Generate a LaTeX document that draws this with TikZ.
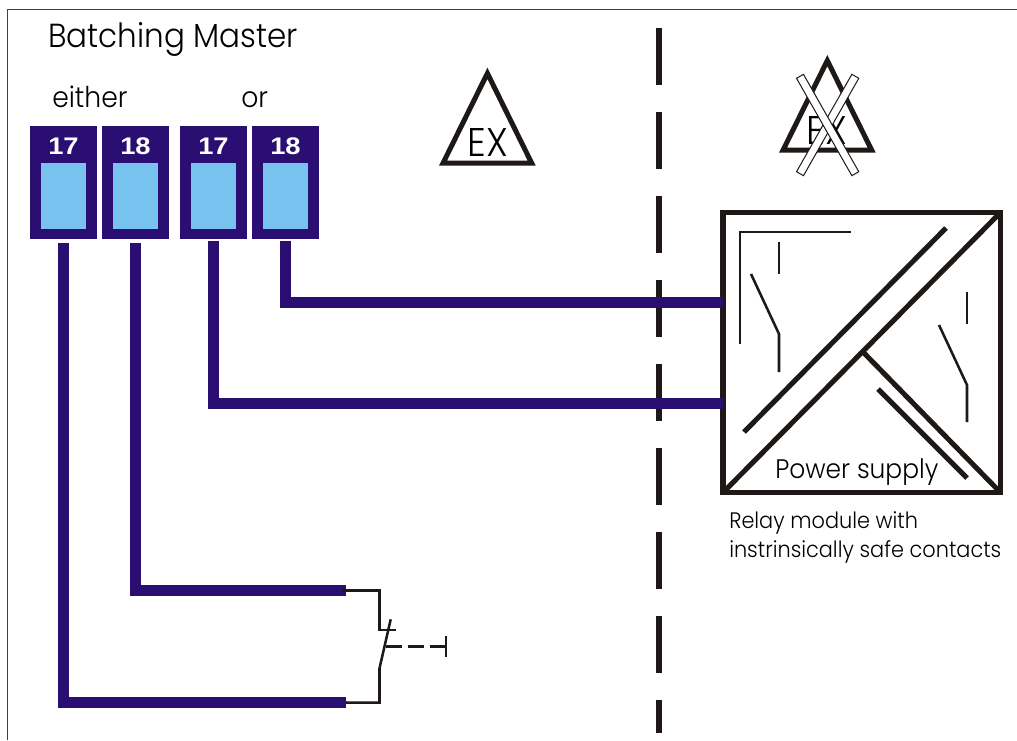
\documentclass[tikz,border=0pt]{standalone}
\usepackage{fontspec}
\usepackage{color}
\setmainfont{Poppins}[UprightFont=* Light, FakeStretch=0.93]
\setsansfont{Liberation Sans}[BoldFeatures={FakeStretch=1.14}]
\usetikzlibrary{shapes,arrows}
\definecolor{termblue}{RGB}{42,14,114}
\definecolor{windowblue}{RGB}{120,194,240}
\definecolor{inkblack}{RGB}{30,25,22}
\tikzstyle{terminal} = [rectangle, fill=termblue, minimum width=50.25pt, minimum height=84.75pt, inner sep=0pt]
\tikzstyle{window} = [rectangle, fill=windowblue, minimum width=33.75pt, minimum height=49.5pt, inner sep=0pt]
\tikzstyle{termlabel} = [text=white, font=\sffamily\bfseries\fontsize{18pt}{18pt}\selectfont, inner sep=0pt]
\tikzstyle{wire} = [draw=termblue, line width=8.25pt]
\tikzstyle{thinline} = [draw=inkblack, line width=1.9pt]
\tikzstyle{thickline} = [draw=inkblack, line width=3.8pt]
\tikzstyle{relaybox} = [rectangle, draw=inkblack, line width=3.8pt, minimum width=208.1pt, minimum height=210pt, inner sep=0pt, outer sep=0pt]
\tikzstyle{caption} = [anchor=base west, inner sep=0pt, text=black]
\tikzstyle{exmark} = [draw=inkblack, line width=3.75pt]
\tikzstyle{crossbar} = [rectangle, draw=inkblack, fill=white, line width=.75pt, minimum width=84pt, minimum height=6pt, inner sep=0pt]

\begin{document}
\begin{tikzpicture}[x=.75pt, y=-.75pt, node distance=54pt]
	\useasboundingbox (0,0) rectangle (1017,740);

		\draw [draw=black!75, line width=1.3pt] (7.5,740) -- (7.5,9.5) -- (1017,9.5);

		\node [caption, font=\fontsize{25pt}{25pt}\selectfont] (title) at (48,47) {Batching Master};
		\node [caption, font=\fontsize{21.5pt}{21.5pt}\selectfont] (either) at (52,107) {either};
		\node [caption, font=\fontsize{21.5pt}{21.5pt}\selectfont] (or) at (241,107) {or};

		\node [terminal] (tone) at (63.5,182.5) {};
		\node [terminal, right of=tone] (ttwo) {};
		\node [terminal, right of=ttwo, node distance=58.5pt] (tthree) {};
		\node [terminal, right of=tthree] (tfour) {};

		\node [window, below of=tone, node distance=10.1pt] (wone) {};
		\node [window, below of=ttwo, node distance=10.1pt] (wtwo) {};
		\node [window, below of=tthree, node distance=10.1pt] (wthree) {};
		\node [window, below of=tfour, node distance=10.1pt] (wfour) {};

		\node [termlabel, above of=tone, node distance=27.4pt] (lone) {17};
		\node [termlabel, above of=ttwo, node distance=27.4pt] (ltwo) {18};
		\node [termlabel, above of=tthree, node distance=27.4pt] (lthree) {17};
		\node [termlabel, above of=tfour, node distance=27.4pt] (lfour) {18};

		\coordinate (septop) at (659,28);
		\coordinate (sepbottom) at (659,733);
		\draw [draw=inkblack, line width=4.5pt, dash pattern=on 42.75pt off 20.25pt] (septop) -- (sepbottom);

		\node [relaybox] (relay) at (861.75,352.5) {};
		\coordinate (relayd) at (723,302.5);
		\coordinate (relayc) at (723,403.5);
		\coordinate (switchb) at (346,590.5);
		\coordinate (switcha) at (346,702.5);

		\path [wire, shorten <=3pt] (tone.south) |- (switcha);
		\path [wire, shorten <=3pt] (ttwo.south) |- (switchb);
		\path [wire, shorten <=1.5pt] (tthree.south) |- (relayc);
		\path [wire, shorten <=1.5pt] (tfour.south) |- (relayd);

		\coordinate (junction) at (863,352);
		\path [thickline] (relay.south west) -- (relay.north east);
		\path [thickline] (junction) -- (relay.south east);
		\path [thickline] (744,432) -- (946,228);
		\path [thickline] (878,389) -- (967,478);

		\path [thinline, line width=1.5pt] (740,344) -- (740,232) -- (851,232);
		\path [thinline, line width=2.2pt] (779,242) -- (779,274);
		\path [thinline] (751,274) -- (779,334) -- (779,372);
		\path [thinline, line width=2.2pt] (967,292) -- (967,324);
		\path [thinline] (939,325) -- (967,385) -- (967,422);

		\node [caption, font=\fontsize{20.1pt}{20.1pt}\selectfont] (power) at (775,478) {Power supply};
		\node [caption, font=\fontsize{16.8pt}{16.8pt}\selectfont] (relayone) at (729,528) {Relay module with};
		\node [caption, font=\fontsize{16.8pt}{16.8pt}\selectfont] (relaytwo) at (729,557) {instrinsically safe contacts};

		\draw [exmark] (443,163.2) -- (531.7,163.2) -- (487.4,73.3) -- cycle;
		\node [caption, font=\fontsize{30pt}{30pt}\selectfont] (exleft) at (467.7,156.7) {EX};

		\draw [exmark] (783,150.2) -- (871.7,150.2) -- (827.3,60.6) -- cycle;
		\node [caption, font=\fontsize{30pt}{30pt}\selectfont] (exright) at (806.7,144) {EX};
		\node [crossbar, rotate=60.4] (barrise) at (827.65,125) {};
		\node [crossbar, rotate=-60.4] (barfall) at (827.65,125) {};

		\coordinate (bend) at (379.7,590.7);
		\coordinate (seat) at (379.7,630);
		\coordinate (pivot) at (379.5,668.3);
		\coordinate (bladetip) at (390.7,619.3);
		\coordinate (bendlow) at (379.5,702.7);
		\coordinate (push) at (446,646.7);

		\path [thinline] (342,590.7) -- (bend) -- (seat) -- (396,630);
		\path [thinline] (bladetip) -- (pivot) -- (bendlow) -- (switcha);
		\path [thinline, dash pattern=on 12pt off 4.5pt] (385.7,646.7) -- (push);
		\path [thinline] (446,635.7) -- (446,657.3);
	\end{tikzpicture}
\end{document}
